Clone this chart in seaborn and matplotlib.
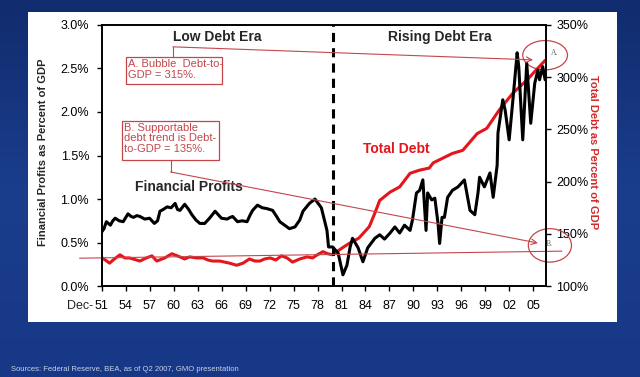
import numpy as np
import pandas as pd
import matplotlib
matplotlib.use('Agg')
import matplotlib.pyplot as plt
from matplotlib.patches import Rectangle, Ellipse
import seaborn as sns

# Financial profits as percent of GDP (left axis)
profit_years = [1951.9, 1952.2, 1952.5, 1953.0, 1953.3, 1953.6, 1954.1, 1954.6, 1955.2, 1955.6,
                1955.9, 1956.3, 1956.7, 1957.3, 1957.9, 1958.5, 1958.9, 1959.2, 1959.6, 1960.1,
                1960.6, 1961.1, 1961.4, 1961.7, 1962.3, 1962.8, 1963.2, 1963.7, 1964.2, 1964.8,
                1965.4, 1966.1, 1966.5, 1966.9, 1967.6, 1968.0, 1968.3, 1968.9, 1969.5, 1970.1,
                1970.5, 1970.8, 1971.4, 1972.0, 1972.6, 1973.3, 1973.8, 1974.2, 1974.8, 1975.4,
                1976.1, 1976.7, 1977.1, 1977.9, 1978.6, 1979.4, 1980.1, 1980.3, 1980.8, 1981.5,
                1982.1, 1982.6, 1983.0, 1983.3, 1984.0, 1984.6, 1985.2, 1986.1, 1986.7, 1987.3,
                1988.0, 1988.6, 1989.2, 1989.8, 1990.5, 1990.8, 1991.3, 1991.7, 1992.1, 1992.5,
                1992.7, 1993.2, 1993.6, 1994.0, 1994.2, 1994.5, 1994.8, 1995.2, 1995.8, 1996.5,
                1997.3, 1998.0, 1998.6, 1999.0, 1999.2, 1999.8, 2000.5, 2000.9, 2001.4, 2001.5,
                2002.1, 2002.4, 2002.9, 2003.4, 2003.9, 2004.1, 2004.6, 2005.1, 2005.6, 2006.1,
                2006.5, 2006.7, 2007.1, 2007.4]
profit_pct = [0.62, 0.66, 0.74, 0.70, 0.75, 0.78, 0.75, 0.74, 0.83, 0.80,
              0.79, 0.81, 0.80, 0.77, 0.78, 0.72, 0.75, 0.86, 0.88, 0.91,
              0.90, 0.95, 0.88, 0.87, 0.94, 0.88, 0.82, 0.76, 0.72, 0.72,
              0.78, 0.86, 0.82, 0.78, 0.77, 0.79, 0.80, 0.74, 0.75, 0.74,
              0.82, 0.87, 0.93, 0.90, 0.89, 0.87, 0.80, 0.74, 0.70, 0.66,
              0.68, 0.76, 0.86, 0.95, 1.00, 0.90, 0.64, 0.45, 0.45, 0.38,
              0.13, 0.24, 0.45, 0.55, 0.44, 0.28, 0.44, 0.55, 0.59, 0.54,
              0.61, 0.68, 0.61, 0.70, 0.64, 0.76, 1.07, 1.10, 1.22, 0.64,
              1.07, 0.99, 1.01, 0.72, 0.49, 0.79, 0.79, 1.02, 1.10, 1.14,
              1.22, 0.87, 0.82, 1.07, 1.25, 1.14, 1.30, 1.02, 1.39, 1.76,
              2.14, 2.02, 1.68, 2.17, 2.68, 2.52, 1.68, 2.56, 1.87, 2.33,
              2.48, 2.37, 2.52, 2.37]

# Total debt as percent of GDP (right axis)
debt_years = [1952.0, 1952.9, 1953.5, 1954.2, 1954.8, 1955.4, 1956.7, 1957.5, 1958.2, 1958.8,
              1959.8, 1960.7, 1961.7, 1962.3, 1962.9, 1963.8, 1964.6, 1965.2, 1965.8, 1966.7,
              1967.9, 1968.8, 1969.6, 1970.4, 1971.1, 1971.7, 1972.3, 1973.0, 1973.7, 1974.4,
              1975.1, 1975.8, 1976.7, 1977.6, 1978.3, 1978.9, 1979.6, 1980.2, 1980.8, 1981.9,
              1982.9, 1984.1, 1985.4, 1986.1, 1986.7, 1988.0, 1989.2, 1990.5, 1991.7, 1992.9,
              1993.4, 1995.8, 1997.1, 1998.9, 2000.1, 2001.7, 2003.4, 2005.1, 2006.3, 2007.4]
debt_pct = [127, 122, 126, 130, 127, 127, 124, 127, 129, 124,
            127, 131, 128, 126, 128, 127, 127, 125, 124, 124,
            122, 120, 122, 126, 124, 124, 126, 127, 125, 129,
            127, 123, 126, 128, 127, 130, 133, 131, 130, 136,
            141, 146, 157, 170, 182, 190, 195, 208, 211, 213,
            218, 227, 230, 246, 251, 269, 285, 297, 307, 316]

left_ticks = [0.0, 0.5, 1.0, 1.5, 2.0, 2.5, 3.0]
left_labels = ['0.0%', '0.5%', '1.0%', '1.5%', '2.0%', '2.5%', '3.0%']
right_ticks = [100, 150, 200, 250, 300, 350]
right_labels = ['100%', '150%', '200%', '250%', '300%', '350%']
tick_years = [1951, 1954, 1957, 1960, 1963, 1966, 1969, 1972, 1975, 1978,
              1981, 1984, 1987, 1990, 1993, 1996, 1999, 2002, 2005]
tick_labels = ['51', '54', '57', '60', '63', '66', '69', '72', '75', '78',
               '81', '84', '87', '90', '93', '96', '99', '02', '05']

RED = '#e3161c'
NOTE = '#c4464a'

sns.set_style('ticks')
plt.rcParams['font.family'] = ['Liberation Sans', 'DejaVu Sans']

profits = pd.DataFrame({'year': profit_years, 'pct': profit_pct})
debt = pd.DataFrame({'year': debt_years, 'pct': debt_pct})

fig = plt.figure(figsize=(6.4, 3.77), dpi=100)

# blue slide background + white panel
bg = fig.add_axes([0, 0, 1, 1], zorder=-10)
grad = np.linspace(0, 1, 256).reshape(-1, 1)
bg.imshow(grad, aspect='auto', extent=[0, 1, 0, 1],
          cmap=matplotlib.colors.LinearSegmentedColormap.from_list('bg', ['#112c6e', '#1a3d8c', '#173887']))
bg.axis('off')
fig.patches.append(Rectangle((0.044, 0.146), 0.92, 0.822, transform=fig.transFigure,
                             facecolor='white', edgecolor='none', zorder=-5))

ax2 = fig.add_axes([0.159, 0.241, 0.694, 0.693])
ax = ax2.twinx()
ax.yaxis.tick_left()
ax.yaxis.set_label_position('left')
ax2.yaxis.tick_right()
ax2.yaxis.set_label_position('right')
ax.patch.set_visible(False)

sns.lineplot(data=debt, x='year', y='pct', ax=ax2, color=RED, linewidth=2.2)
sns.lineplot(data=profits, x='year', y='pct', ax=ax, color='black', linewidth=2.2)

xmin, xmax = 1951.92, 2007.5
for a in (ax, ax2):
    a.set_xlim(xmin, xmax)
    a.set_xlabel('')
    for s in a.spines.values():
        s.set_visible(True)
        s.set_color('black')
        s.set_linewidth(1.2)
    a.tick_params(direction='out', length=3.6, width=1, colors='black', labelsize=9)

ax.set_ylim(0, 3.0)
ax.set_yticks(left_ticks)
ax.set_yticklabels(left_labels)
ax.tick_params(axis='y', pad=5.5)
ax2.set_ylim(100, 350)
ax2.set_yticks(right_ticks)
ax2.set_yticklabels(right_labels)
ax2.tick_params(axis='y', pad=4)

xt = [y + 0.92 for y in tick_years]
ax2.set_xticks(xt)
ax2.set_xticklabels(tick_labels)
ax2.tick_params(axis='x', pad=6.5)
ax2.annotate('Dec-', xy=(xt[0], 0), xycoords=('data', 'axes fraction'),
             xytext=(-6.5, -10.3), textcoords='offset points', ha='right', va='top', fontsize=9)

ax.set_ylabel('Financial Profits as Percent of GDP', fontsize=8, fontweight='bold')
ax.yaxis.set_label_coords(-0.122, 0.513)
ax2.set_ylabel('Total Debt as Percent of GDP', fontsize=8, fontweight='bold', color='#d42a2a', rotation=-90)
ax2.yaxis.set_label_coords(1.117, 0.513)

# era divider
ax.axvline(1980.9, color='black', linewidth=2.2, dashes=(3.0, 2.0))

t = ax.transAxes
ax.text(0.261, 0.954, 'Low Debt Era', transform=t, ha='center', va='center', fontsize=10, fontweight='bold')
ax.text(0.761, 0.954, 'Rising Debt Era', transform=t, ha='center', va='center', fontsize=10, fontweight='bold')
ax.text(0.664, 0.525, 'Total Debt', transform=t, ha='center', va='center', fontsize=10,
        fontweight='bold', color=RED)
ax.text(0.196, 0.379, 'Financial Profits', transform=t, ha='center', va='center', fontsize=10,
        fontweight='bold')

# note boxes
ax.add_patch(Rectangle((0.054, 0.774), 0.216, 0.103, transform=t, fill=False,
                       edgecolor=NOTE, linewidth=0.9, clip_on=False))
ax.text(0.060, 0.870, 'A. Bubble  Debt-to-\nGDP = 315%.', transform=t, ha='left', va='top',
        fontsize=8, color=NOTE, linespacing=1.1)
ax.add_patch(Rectangle((0.045, 0.483), 0.219, 0.149, transform=t, fill=False,
                       edgecolor=NOTE, linewidth=0.9, clip_on=False))
ax.text(0.051, 0.626, 'B. Supportable\ndebt trend is Debt-\nto-GDP = 135%.', transform=t,
        ha='left', va='top', fontsize=8, color=NOTE, linespacing=1.1)

# leader lines and arrows
ax.plot([0.160, 0.160], [0.877, 0.916], transform=t, color=NOTE, lw=0.8, clip_on=False)
ax.annotate('', xy=(0.971, 0.866), xytext=(0.160, 0.916), xycoords=t, textcoords=t,
            arrowprops=dict(arrowstyle='->', color=NOTE, lw=0.8, shrinkA=0, shrinkB=0))
ax.plot([0.155, 0.155], [0.483, 0.437], transform=t, color=NOTE, lw=0.8, clip_on=False)
ax.annotate('', xy=(0.982, 0.165), xytext=(0.155, 0.437), xycoords=t, textcoords=t,
            arrowprops=dict(arrowstyle='->', color=NOTE, lw=0.8, shrinkA=0, shrinkB=0))
ax.plot([-0.050, 1.036], [0.107, 0.134], transform=t, color=NOTE, lw=0.8, clip_on=False)

# circles around the end points
ax2.add_patch(Ellipse((2007.4, 321), 5.6, 28, fill=False, edgecolor=NOTE, lw=0.9, clip_on=False))
ax2.add_patch(Ellipse((2008.0, 139), 5.4, 32, fill=False, edgecolor=NOTE, lw=0.9, clip_on=False))
ax2.text(2008.6, 323, 'A.', fontsize=5.5, color='#666666', family='Liberation Serif',
         ha='center', va='center')
ax2.text(2007.9, 140, 'B.', fontsize=5.5, color='#666666', family='Liberation Serif',
         ha='center', va='center')

fig.text(0.017, 0.019, 'Sources: Federal Reserve, BEA, as of Q2 2007, GMO presentation',
         fontsize=5.5, color='#c9d2e6', ha='left', va='center')

fig.savefig('out.png', dpi=100)
